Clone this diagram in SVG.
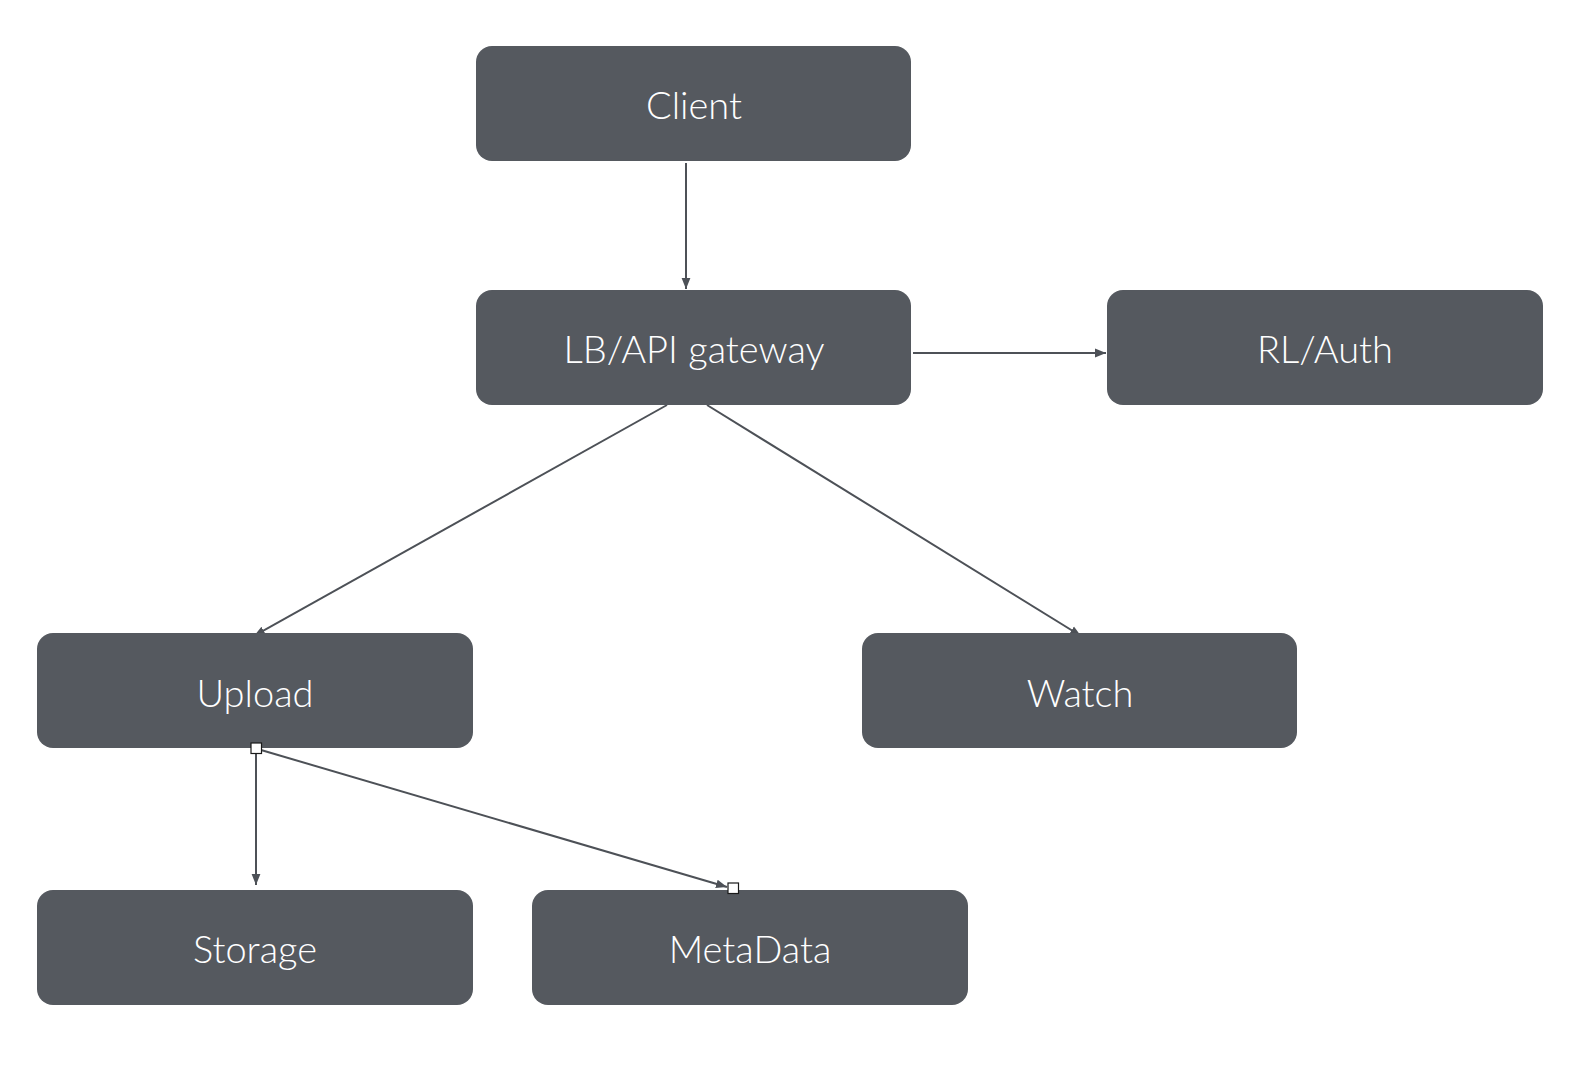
<svg xmlns="http://www.w3.org/2000/svg" width="1594" height="1070" viewBox="0 0 1594 1070">
<defs>
<style>
.box{fill:#55595f}
.lbl{fill:#ffffff;font-family:Lato,"Open Sans","Liberation Sans",sans-serif;font-weight:300;font-size:38px;text-anchor:middle;dominant-baseline:central}
.ln{stroke:#4d5157;stroke-width:2;fill:none}
.hd{stroke:#1a1a1a;stroke-width:1.2;fill:#ffffff}
</style>
<marker id="arrL" viewBox="0 0 10 10" refX="10" refY="5" markerWidth="11" markerHeight="11" orient="auto" markerUnits="userSpaceOnUse">
<path d="M0,1 L10,5 L0,9 z" fill="#4d5157"/>
</marker>
</defs>
<rect width="1594" height="1070" fill="#ffffff"/>
<g id="connectors">
<line class="ln" x1="686" y1="163" x2="686" y2="289" marker-end="url(#arrL)"/>
<line class="ln" x1="913" y1="353" x2="1106" y2="353" marker-end="url(#arrL)"/>
<line class="ln" x1="667" y1="405" x2="254" y2="636" marker-end="url(#arrL)"/>
<line class="ln" x1="707" y1="405" x2="1081" y2="636" marker-end="url(#arrL)"/>
<line class="ln" x1="256" y1="754" x2="256" y2="885" marker-end="url(#arrL)"/>
<line class="ln" x1="261" y1="750" x2="727" y2="887" marker-end="url(#arrL)"/>
</g>
<g id="client"><rect class="box" x="476" y="46" width="435" height="115" rx="16"/><text class="lbl" x="694" y="104">Client</text></g>
<g id="lb"><rect class="box" x="476" y="290" width="435" height="115" rx="16"/><text class="lbl" x="694" y="348">LB/API gateway</text></g>
<g id="rlauth"><rect class="box" x="1107" y="290" width="436" height="115" rx="16"/><text class="lbl" x="1325" y="348">RL/Auth</text></g>
<g id="upload"><rect class="box" x="37" y="633" width="436" height="115" rx="16"/><text class="lbl" x="255" y="692">Upload</text></g>
<g id="watch"><rect class="box" x="862" y="633" width="435" height="115" rx="16"/><text class="lbl" x="1080" y="692">Watch</text></g>
<g id="storage"><rect class="box" x="37" y="890" width="436" height="115" rx="16"/><text class="lbl" x="255" y="948">Storage</text></g>
<g id="metadata"><rect class="box" x="532" y="890" width="436" height="115" rx="16"/><text class="lbl" x="750" y="948">MetaData</text></g>
<g id="handles">
<rect class="hd" x="251" y="743" width="10.5" height="10.5"/>
<rect class="hd" x="728" y="883" width="10.5" height="10.5"/>
</g>
</svg>
